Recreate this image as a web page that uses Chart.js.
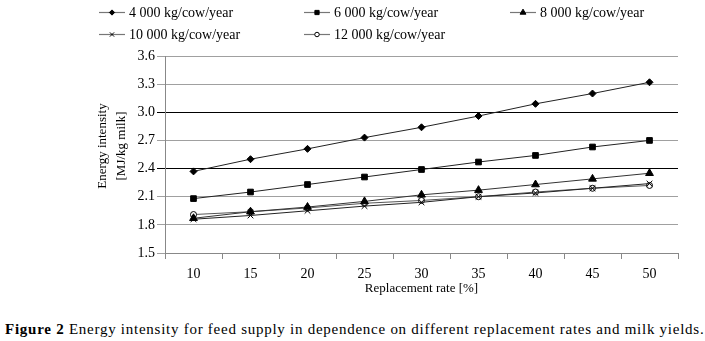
<!DOCTYPE html>
<html>
<head>
<meta charset="utf-8">
<script src="https://cdn.jsdelivr.net/npm/chart.js@4.4.0/dist/chart.umd.min.js"></script>
<style>
  html, body { margin: 0; padding: 0; background: #fff; }
  #wrap { position: relative; width: 705px; height: 341px; overflow: hidden; }
  #box { position: absolute; left: 0; top: 0; width: 705px; height: 300px; }
  #caption {
    position: absolute; left: 5px; top: 321px; white-space: nowrap; letter-spacing: 0.74px;
    font-family: 'Liberation Serif', 'Times New Roman', serif; font-size: 15px; color: #000;
  }
</style>
</head>
<body>
<div id="wrap">
  <div id="box"><canvas id="chart" width="705" height="300"></canvas></div>
  <div id="caption"><b>Figure 2</b> Energy intensity for feed supply in dependence on different replacement rates and milk yields.</div>
</div>
<script>
var rates = ['10', '15', '20', '25', '30', '35', '40', '45', '50'];
var seriesNames = ['4 000 kg/cow/year', '6 000 kg/cow/year', '8 000 kg/cow/year', '10 000 kg/cow/year', '12 000 kg/cow/year'];
var yield4000 = [2.37, 2.50, 2.61, 2.73, 2.84, 2.96, 3.09, 3.20, 3.32];
var yield6000 = [2.08, 2.15, 2.23, 2.31, 2.39, 2.47, 2.54, 2.63, 2.70];
var yield8000 = [1.87, 1.94, 1.99, 2.05, 2.12, 2.17, 2.23, 2.29, 2.35];
var yield10000 = [1.86, 1.90, 1.95, 2.00, 2.04, 2.10, 2.14, 2.19, 2.24];
var yield12000 = [1.91, 1.94, 1.98, 2.03, 2.06, 2.10, 2.15, 2.19, 2.22];
var yTicks = [1.5, 1.8, 2.1, 2.4, 2.7, 3.0, 3.3, 3.6];

var serif = "'Liberation Serif', 'Times New Roman', serif";

function makeSet(i, data, style, radius, fill, lineColor) {
  return {
    label: seriesNames[i],
    data: data,
    borderColor: lineColor,
    borderWidth: 1,
    pointStyle: style,
    pointRadius: radius,
    pointBackgroundColor: fill,
    pointBorderColor: '#000',
    pointBorderWidth: 1,
    tension: 0
  };
}

var legendPos = [
  { x: 99, y: 12 }, { x: 304, y: 12 }, { x: 510, y: 12 },
  { x: 99, y: 34 }, { x: 304, y: 34 }
];

var extras = {
  id: 'extras',
  afterDraw: function(chart) {
    var ctx = chart.ctx;
    ctx.save();
    chart.data.datasets.forEach(function(ds, i) {
      var p = legendPos[i];
      ctx.strokeStyle = '#777';
      ctx.lineWidth = 1.2;
      ctx.beginPath();
      ctx.moveTo(p.x, p.y + 0.5);
      ctx.lineTo(p.x + 26, p.y + 0.5);
      ctx.stroke();
      ctx.fillStyle = ds.pointBackgroundColor;
      ctx.strokeStyle = '#000';
      ctx.lineWidth = 1;
      Chart.helpers.drawPoint(ctx, {
        pointStyle: ds.pointStyle,
        radius: ds.pointRadius * 0.75,
        borderWidth: 1
      }, p.x + 13, p.y + 0.5);
      ctx.fillStyle = '#000';
      ctx.font = '14px ' + serif;
      ctx.textBaseline = 'middle';
      ctx.textAlign = 'left';
      ctx.fillText(ds.label, p.x + 30, p.y + 1);
    });
    // y axis title, two lines, rotated
    ctx.font = '13px ' + serif;
    ctx.fillStyle = '#000';
    ctx.textAlign = 'center';
    ctx.textBaseline = 'middle';
    ctx.translate(113, 146);
    ctx.rotate(-Math.PI / 2);
    ctx.fillText('Energy intensity', 0, -10);
    ctx.fillText('[MJ/kg milk]', 0, 9);
    ctx.restore();
  }
};

Chart.defaults.font.family = serif;
Chart.defaults.color = '#000';

var ctxEl = document.getElementById('chart');
var chart = new Chart(ctxEl, {
  type: 'line',
  data: {
    labels: rates,
    datasets: [
      makeSet(0, yield4000, 'rectRot', 3.5, '#000', '#222'),
      makeSet(1, yield6000, 'rect', 4, '#000', '#222'),
      makeSet(2, yield8000, 'triangle', 4.5, '#000', '#333'),
      makeSet(3, yield10000, 'crossRot', 4, '#000', '#222'),
      makeSet(4, yield12000, 'circle', 3, '#fff', '#555')
    ]
  },
  options: {
    responsive: false,
    animation: false,
    events: [],
    layout: { padding: { left: 0, right: 27, top: 56, bottom: 0 } },
    plugins: {
      legend: { display: false },
      tooltip: { enabled: false }
    },
    scales: {
      x: {
        type: 'category',
        offset: true,
        grid: {
          offset: true,
          drawOnChartArea: false,
          drawTicks: true,
          tickLength: 6,
          color: '#888'
        },
        border: { color: '#888', width: 1 },
        ticks: { font: { size: 14 }, padding: 7, maxRotation: 0 },
        title: {
          display: true,
          text: 'Replacement rate [%]',
          font: { size: 13 },
          padding: { top: 0, bottom: 4 }
        },
        afterFit: function(scale) { scale.height = 47; }
      },
      y: {
        min: 1.5,
        max: 3.6,
        afterBuildTicks: function(scale) {
          scale.ticks = yTicks.map(function(v) { return { value: v }; });
        },
        grid: {
          color: function(c) {
            if (!c.tick) return '#999';
            var v = Math.round(c.tick.value * 10) / 10;
            return (v === 3.0 || v === 2.4) ? '#000' : '#a0a0a0';
          },
          tickLength: 8,
          lineWidth: 1
        },
        border: { color: '#888', width: 1 },
        ticks: {
          font: { size: 14 },
          padding: 2,
          callback: function(v) { return Number(v).toFixed(1); }
        },
        afterFit: function(scale) { scale.width = 165; }
      }
    }
  },
  plugins: [extras]
});
</script>
</body>
</html>
